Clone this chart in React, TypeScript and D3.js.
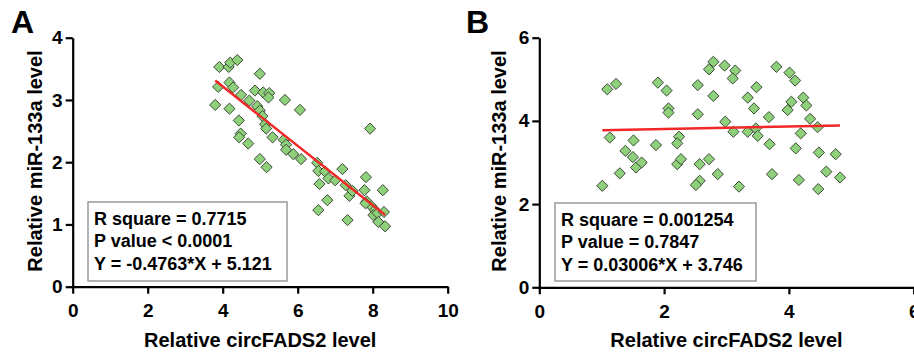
import { useEffect, useRef } from "react";
import * as d3 from "d3";

// panel A: circFADS2 vs miR-133a (negative correlation)
const aX = [3.91, 4.16, 4.2, 4.39, 3.8, 3.88, 4.18, 4.28, 4.18, 4.49, 4.43, 4.48, 4.44, 4.68, 4.71, 4.86, 4.99, 4.92, 4.99, 5.08, 5.24, 5.22, 5.06, 5.13, 5.16, 5.33, 4.99, 5.17, 5.66, 5.63, 5.69, 5.69, 5.88, 6.09, 6.06, 6.52, 6.55, 6.58, 6.73, 6.82, 7.0, 6.79, 6.55, 7.19, 7.28, 7.38, 7.46, 7.33, 7.82, 7.78, 7.84, 7.93, 7.97, 8.06, 8.02, 8.13, 8.27, 8.3, 8.15, 8.33, 7.81];
const aY = [3.53, 3.53, 3.6, 3.64, 2.92, 3.21, 3.28, 3.2, 2.86, 3.08, 2.67, 2.46, 2.4, 2.3, 2.99, 3.15, 3.42, 2.9, 2.83, 3.12, 3.11, 3.04, 2.74, 2.61, 2.54, 2.4, 2.05, 1.92, 3.0, 2.36, 2.28, 2.2, 2.13, 2.05, 2.84, 1.99, 1.86, 1.65, 1.85, 1.74, 1.71, 1.39, 1.23, 1.89, 1.63, 1.46, 1.54, 1.07, 1.76, 1.55, 1.37, 2.54, 1.29, 1.23, 1.15, 1.18, 1.55, 1.2, 1.04, 0.97, 1.34];
const aFit = { slope: -0.4763, intercept: 5.121 };
const aStats = ["R square = 0.7715", "P value < 0.0001", "Y = -0.4763*X + 5.121"];
const aXTicks = [0, 2, 4, 6, 8, 10];
const aYTicks = [0, 1, 2, 3, 4];

// panel B: no correlation
const bX = [1.01, 1.09, 1.23, 1.13, 1.38, 1.29, 1.51, 1.5, 1.55, 1.64, 1.87, 1.9, 2.04, 2.07, 2.07, 2.24, 2.21, 2.21, 2.27, 2.54, 2.54, 2.57, 2.57, 2.51, 2.72, 2.79, 2.79, 2.72, 2.86, 2.97, 3.14, 3.1, 2.98, 3.11, 3.2, 3.34, 3.44, 3.48, 3.34, 3.47, 3.5, 3.68, 3.69, 3.73, 3.8, 4.01, 4.1, 4.04, 3.98, 4.23, 4.28, 4.34, 4.19, 4.11, 4.16, 4.46, 4.48, 4.47, 4.6, 4.75, 4.82];
const bY = [2.44, 4.76, 4.89, 3.6, 3.28, 2.74, 3.53, 3.13, 2.88, 3.0, 3.42, 4.92, 4.73, 4.3, 4.2, 3.62, 3.46, 2.96, 3.08, 4.86, 4.16, 2.96, 2.56, 2.46, 5.24, 5.42, 4.6, 3.08, 2.72, 5.33, 5.21, 5.02, 3.98, 3.74, 2.42, 4.56, 4.3, 4.81, 3.74, 3.82, 3.64, 4.09, 3.44, 2.72, 5.3, 5.16, 4.97, 4.46, 4.26, 4.56, 4.37, 4.05, 3.7, 3.34, 2.58, 3.85, 3.24, 2.36, 2.78, 3.2, 2.64];
const bFit = { slope: 0.03006, intercept: 3.746 };
const bStats = ["R square = 0.001254", "P value = 0.7847", "Y = 0.03006*X + 3.746"];
const bXTicks = [0, 2, 4, 6];
const bYTicks = [0, 2, 4, 6];

const xTitle = "Relative circFADS2 level";
const yTitle = "Relative miR-133a level";

const FONT = "'Liberation Sans', Arial, Helvetica, sans-serif";

interface PanelProps {
  label: string;
  xs: number[];
  ys: number[];
  fit: { slope: number; intercept: number };
  stats: string[];
  xTicks: number[];
  yTicks: number[];
  xRange: [number, number];
  yRange: [number, number];
  box: { x: number; y: number; w: number; h: number };
  labelX: number;
  yTitleX: number;
}

function Panel(p: PanelProps) {
  const gRef = useRef<SVGGElement>(null);

  useEffect(() => {
    if (!gRef.current) return;
    const g = d3.select(gRef.current);
    g.selectAll("*").remove();

    const x = d3
      .scaleLinear()
      .domain([p.xTicks[0], p.xTicks[p.xTicks.length - 1]])
      .range(p.xRange);
    const y = d3
      .scaleLinear()
      .domain([p.yTicks[0], p.yTicks[p.yTicks.length - 1]])
      .range(p.yRange);

    const fmt = d3.format("d");

    // axes
    const xAxis = g
      .append("g")
      .attr("transform", `translate(0,${p.yRange[0]})`)
      .call(d3.axisBottom(x).tickValues(p.xTicks).tickFormat(fmt).tickSize(7).tickPadding(10).tickSizeOuter(0));
    const yAxis = g
      .append("g")
      .attr("transform", `translate(${p.xRange[0]},0)`)
      .call(d3.axisLeft(y).tickValues(p.yTicks).tickFormat(fmt).tickSize(7).tickPadding(3).tickSizeOuter(0));

    [xAxis, yAxis].forEach((ax) => {
      ax.select(".domain").attr("stroke", "#000").attr("stroke-width", 2.2);
      ax.selectAll(".tick line").attr("stroke", "#000").attr("stroke-width", 2.2);
      ax.selectAll(".tick text")
        .attr("fill", "#000")
        .style("font-family", FONT)
        .style("font-size", "19px")
        .style("font-weight", "bold");
    });

    // titles
    g.append("text")
      .attr("x", (p.xRange[0] + p.xRange[1]) / 2)
      .attr("y", 347)
      .attr("text-anchor", "middle")
      .style("font-family", FONT)
      .style("font-size", "20px")
      .style("font-weight", "bold")
      .text(xTitle);

    g.append("text")
      .attr("transform", `translate(${p.yTitleX},161) rotate(-90)`)
      .attr("text-anchor", "middle")
      .style("font-family", FONT)
      .style("font-size", "20px")
      .style("font-weight", "bold")
      .text(yTitle);

    g.append("text")
      .attr("x", p.labelX)
      .attr("y", 33)
      .style("font-family", FONT)
      .style("font-size", "32px")
      .style("font-weight", "bold")
      .text(p.label);

    // stats box
    g.append("rect")
      .attr("x", p.box.x)
      .attr("y", p.box.y)
      .attr("width", p.box.w)
      .attr("height", p.box.h)
      .attr("fill", "#fff")
      .attr("stroke", "#9a9a9a")
      .attr("stroke-width", 1.5);

    g.append("g")
      .selectAll("text")
      .data(p.stats)
      .join("text")
      .attr("x", p.box.x + 6)
      .attr("y", (_, i) => p.box.y + 23 + i * 22.3)
      .style("font-family", FONT)
      .style("font-size", "18px")
      .style("font-weight", "bold")
      .text((d) => d);

    // points
    const pts = p.xs.map((v, i) => [v, p.ys[i]] as [number, number]);
    const r = 5.6;
    g.append("g")
      .selectAll("path")
      .data(pts)
      .join("path")
      .attr("d", (d) => {
        const cx = x(d[0]);
        const cy = y(d[1]);
        return `M${cx},${cy - r}L${cx + r},${cy}L${cx},${cy + r}L${cx - r},${cy}Z`;
      })
      .attr("fill", "#8fd07a")
      .attr("stroke", "#3c4a3a")
      .attr("stroke-width", 1);

    // regression line
    const [xmin, xmax] = d3.extent(p.xs) as [number, number];
    const line = d3
      .line<number>()
      .x((d) => x(d))
      .y((d) => y(p.fit.slope * d + p.fit.intercept));
    g.append("path")
      .attr("d", line([xmin, xmax]))
      .attr("fill", "none")
      .attr("stroke", "#f02828")
      .attr("stroke-width", 2.5);
  }, [p]);

  return <g ref={gRef} />;
}

export default function App() {
  return (
    <svg
      width={914}
      height={355}
      style={{ position: "absolute", left: 0, top: 0, background: "#fff" }}
    >
      <rect width={914} height={355} fill="#fff" />
      <Panel
        label="A"
        xs={aX}
        ys={aY}
        fit={aFit}
        stats={aStats}
        xTicks={aXTicks}
        yTicks={aYTicks}
        xRange={[72.7, 447.7]}
        yRange={[286.7, 37.7]}
        box={{ x: 88, y: 202, w: 199, h: 79 }}
        labelX={11}
        yTitleX={42}
      />
      <Panel
        label="B"
        xs={bX}
        ys={bY}
        fit={bFit}
        stats={bStats}
        xTicks={bXTicks}
        yTicks={bYTicks}
        xRange={[539.3, 913.7]}
        yRange={[287.3, 37.7]}
        box={{ x: 555, y: 203, w: 201, h: 78 }}
        labelX={466}
        yTitleX={506}
      />
    </svg>
  );
}
